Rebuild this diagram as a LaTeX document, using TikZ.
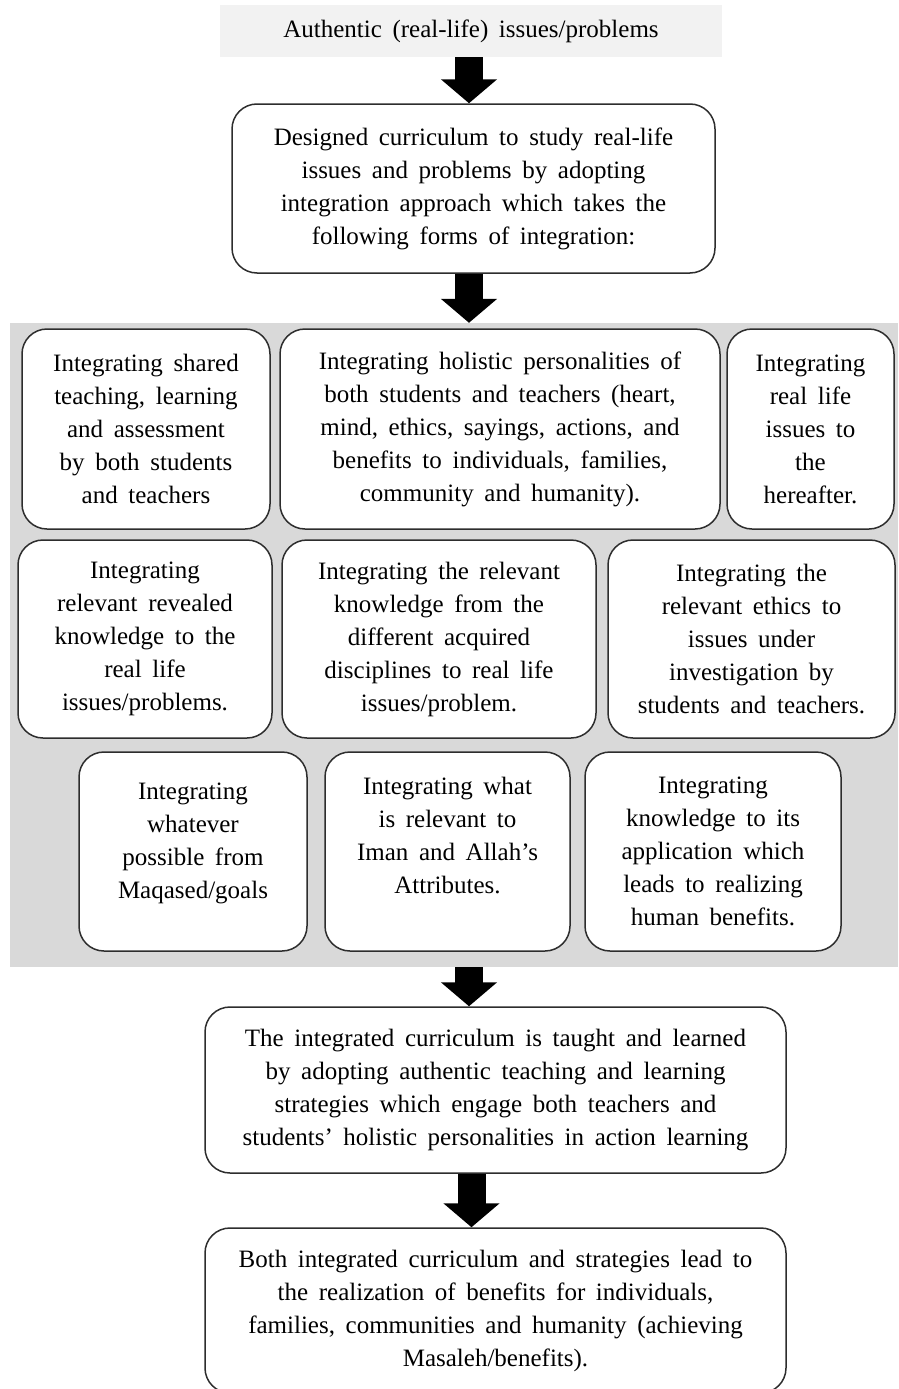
\documentclass[tikz,border=0pt]{standalone}
\usepackage{fontspec}
\setmainfont{Liberation Serif}[WordSpace=1.7]
\usepackage{xcolor}
\usetikzlibrary{positioning,calc,arrows.meta}

\definecolor{topgray}{RGB}{242,242,242}
\definecolor{bandgray}{RGB}{217,217,217}
\definecolor{edgegray}{RGB}{45,45,45}

\begin{document}
\begin{tikzpicture}[x=1pt, y=-1pt, font=\fontsize{25}{33}\selectfont,
  main/.style = {rectangle, rounded corners=25pt, draw=edgegray, line width=1.5pt, fill=white, align=center, inner sep=0pt},
  head/.style = {rectangle, fill=topgray, align=center, inner sep=0pt, minimum width=502pt, minimum height=52pt},
  band/.style = {rectangle, fill=bandgray, inner sep=0pt, minimum width=888pt, minimum height=644pt},
  blk/.style = {draw=black, line width=28pt, -{Triangle[length=24pt, width=55pt]}}]

\useasboundingbox (0,0) rectangle (898,1389);

\node[head] (t) at (471,31) {Authentic (real-life) issues/problems};
\node[main, minimum width=483pt, minimum height=169pt] (d) at (473.5,188.5) {Designed curriculum to study real-life\\ issues and problems by adopting\\ integration approach which takes the\\ following forms of integration:};

\node[band] (p) at (454,645) {};

% first row
\node[main, minimum width=248pt, minimum height=200pt] (a) at (146,429) {Integrating shared\\ teaching, learning\\ and assessment\\ by both students\\ and teachers};
\node[main, minimum width=440pt, minimum height=200pt] (b) at (500,429) {Integrating holistic personalities of\\ both students and teachers (heart,\\ mind, ethics, sayings, actions, and\\ benefits to individuals, families,\\ community and humanity).};
\node[main, minimum width=167pt, minimum height=200pt] (c) at (810.5,429) {Integrating\\ real life\\ issues to\\ the\\ hereafter.};

% second row
\node[main, minimum width=254pt, minimum height=198pt] (e) at (145,639) {Integrating\\ relevant revealed\\ knowledge to the\\ real life\\ issues/problems.};
\node[main, minimum width=314pt, minimum height=198pt] (f) at (439,639) {Integrating the relevant\\ knowledge from the\\ different acquired\\ disciplines to real life\\ issues/problem.};
\node[main, minimum width=287pt, minimum height=198pt] (g) at (751.5,639) {Integrating the\\ relevant ethics to\\ issues under\\ investigation by\\ students and teachers.};

% third row
\node[main, minimum width=228pt, minimum height=199pt] (h) at (193,851.5) {Integrating\\ whatever\\ possible from\\ Maqased/goals\\[-11pt]\mbox{}};
\node[main, minimum width=245pt, minimum height=199pt] (i) at (447.5,851.5) {Integrating what\\ is relevant to\\ Iman and Allah’s\\ Attributes.\\[0pt]\mbox{}};
\node[main, minimum width=256pt, minimum height=199pt] (j) at (713,851.5) {Integrating\\ knowledge to its\\ application which\\ leads to realizing\\ human benefits.};

\node[main, minimum width=581pt, minimum height=166pt] (k) at (495.5,1090) {The integrated curriculum is taught and learned\\ by adopting authentic teaching and learning\\ strategies which engage both teachers and\\ students’ holistic personalities in action learning};
\node[main, minimum width=581pt, minimum height=165pt] (l) at (495.5,1310.5) {Both integrated curriculum and strategies lead to\\ the realization of benefits for individuals,\\ families, communities and humanity (achieving\\ Masaleh/benefits).};

\coordinate (ax) at (469,0);
\coordinate (bx) at (471.5,0);

\path (t.south -| ax) edge[blk] (d.north -| ax)
 (d.south -| ax) edge[blk] (p.north -| ax)
 (p.south -| ax) edge[blk] (k.north -| ax)
 (k.south -| bx) edge[blk] (l.north -| bx);
\end{tikzpicture}
\end{document}
